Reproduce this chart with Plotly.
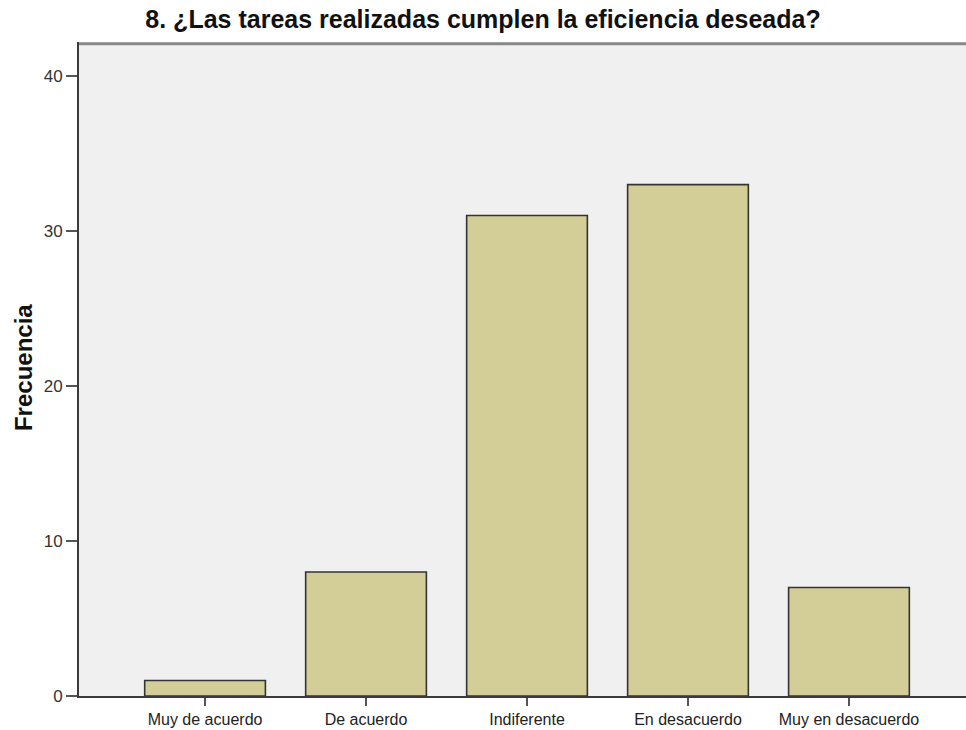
import plotly.graph_objects as go

categories = ["Muy de acuerdo", "De acuerdo", "Indiferente", "En desacuerdo", "Muy en desacuerdo"]
frecuencia = [1, 8, 31, 33, 7]
y_ticks = [0, 10, 20, 30, 40]
title = "8. ¿Las tareas realizadas cumplen la eficiencia deseada?"
y_title = "Frecuencia"

x_pos = list(range(len(categories)))

fig = go.Figure(go.Bar(
    x=x_pos, y=frecuencia, width=0.75,
    marker=dict(color="#D3CE97", line=dict(color="#333333", width=1.6)),
    hoverinfo="y",
))

font = "Liberation Sans, Arial, sans-serif"
fig.update_layout(
    width=966, height=730,
    margin=dict(l=79, r=0, t=42, b=34),
    paper_bgcolor="white", plot_bgcolor="#F0F0F0",
    showlegend=False,
    font=dict(family=font, color="#222"),
    title=dict(text="<b>" + title + "</b>", x=0.5, xanchor="center", y=0.973, yanchor="middle",
               font=dict(size=25, family=font, color="#111")),
)
fig.update_xaxes(
    range=[-0.783, 4.727], tickmode="array", tickvals=x_pos, ticktext=categories,
    showline=True, linecolor="#3a3a3a", linewidth=2, ticks="outside", ticklen=8, tickwidth=2,
    tickcolor="#555", showgrid=False, zeroline=False, tickfont=dict(size=16, color="#222"),
    automargin=False,
)
fig.update_yaxes(
    range=[0, 42.2], tickvals=y_ticks, showline=True, linecolor="#3a3a3a", linewidth=2,
    ticks="outside", ticklen=11, tickwidth=2, tickcolor="#555", showgrid=False, zeroline=False,
    tickfont=dict(size=17, color="#333"), automargin=False,
)
fig.add_shape(type="line", xref="paper", yref="paper", x0=0, x1=1, y0=0.9975, y1=0.9975,
              line=dict(color="#888888", width=3))
fig.add_annotation(text="<b>" + y_title + "</b>", xref="paper", yref="paper",
                   x=-0.0631, y=0.5015, xanchor="center", yanchor="middle", textangle=-90,
                   showarrow=False, font=dict(size=24, family=font, color="#111"))
fig.write_html("out.html", config={"displayModeBar": False},
               post_script="document.body.style.margin='0';document.body.style.overflow='hidden';")
